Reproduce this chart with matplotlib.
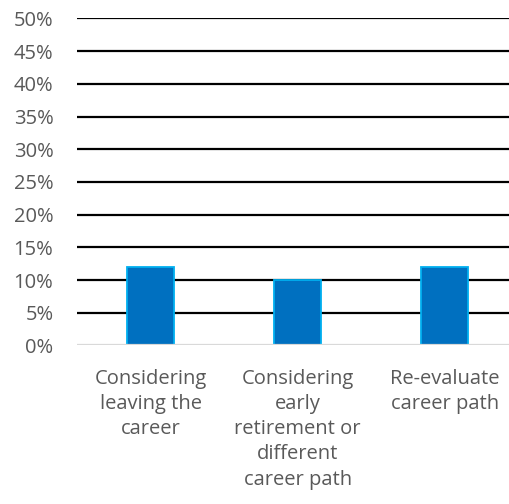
import matplotlib.pyplot as plt
from matplotlib.ticker import FuncFormatter

categories = ["Considering\nleaving the\ncareer",
              "Considering\nearly\nretirement or\ndifferent\ncareer path",
              "Re-evaluate\ncareer path"]
values = [12, 10, 12]
yticks = [0, 5, 10, 15, 20, 25, 30, 35, 40, 45, 50]

plt.rcParams['font.family'] = ['Open Sans', 'DejaVu Sans']

fig = plt.figure(figsize=(5.1, 5.04), dpi=100)
ax = fig.add_axes([0.151, 0.3145, 0.865, 0.6488])

x = range(len(categories))
ax.bar(x, values, width=0.32, color='#0070C0', edgecolor='#00B0F0',
       linewidth=1.3, zorder=3)

ax.set_xlim(-0.5, 2.5)
ax.set_ylim(0, 50)
ax.set_yticks(yticks)
ax.yaxis.set_major_formatter(FuncFormatter(lambda v, p: f"{v:.0f}%"))

# horizontal gridlines, the baseline is drawn light grey
for t in yticks[1:]:
    ax.axhline(t, color='black', linewidth=1.6, zorder=1)
ax.axhline(0, color='#D9D9D9', linewidth=1.6, zorder=4)

for s in ax.spines.values():
    s.set_visible(False)

ax.set_xticks(list(x))
ax.set_xticklabels(categories, linespacing=1.34)
ax.tick_params(axis='both', length=0, labelsize=14.5, labelcolor='#595959')
ax.tick_params(axis='y', pad=17)
ax.tick_params(axis='x', pad=17)

fig.savefig("out.png", dpi=100)
